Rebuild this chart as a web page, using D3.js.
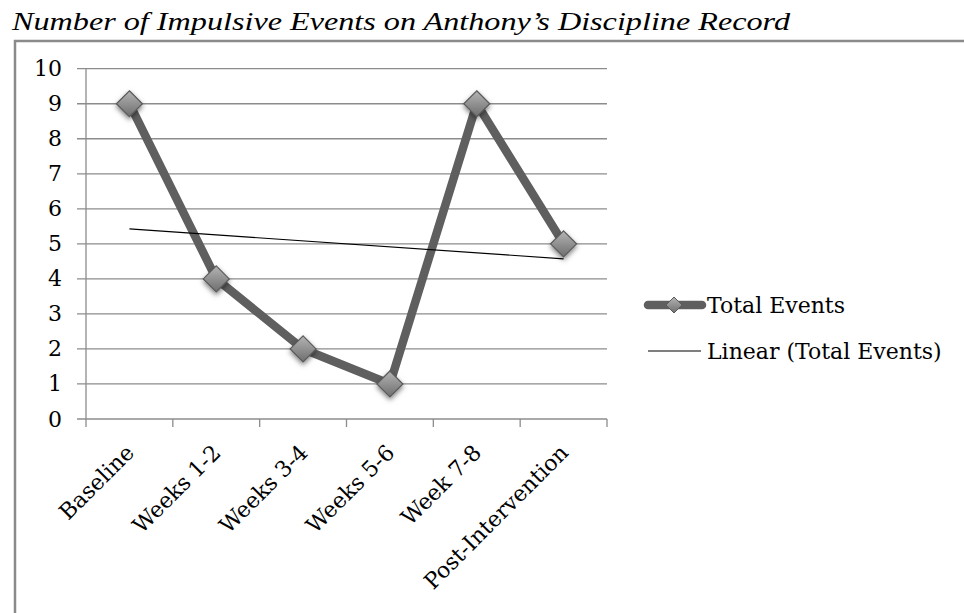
<!DOCTYPE html>
<html>
<head>
<meta charset="utf-8">
<script src="https://cdn.jsdelivr.net/npm/d3@7"></script>
<style>
  html, body { margin: 0; padding: 0; background: #fff; }
  svg { display: block; }
</style>
</head>
<body>
<svg id="chart" width="964" height="613"></svg>
<script>
// Impulsive events recorded per period
const categories = ["Baseline", "Weeks 1-2", "Weeks 3-4", "Weeks 5-6", "Week 7-8", "Post-Intervention"];
const totalEvents = [9, 4, 2, 1, 9, 5];
const yTickValues = [0, 1, 2, 3, 4, 5, 6, 7, 8, 9, 10];
const seriesName = "Total Events";
const trendName = "Linear (Total Events)";
const titleText = "Number of Impulsive Events on Anthony\u2019s Discipline Record";

const svg = d3.select("#chart");
const labelFont = "'DejaVu Serif', serif";

// Least-squares trend over the category index (1..n)
const n = totalEvents.length;
const xs = d3.range(1, n + 1);
const mx = d3.mean(xs), my = d3.mean(totalEvents);
const slope = d3.sum(xs, (v, i) => (v - mx) * (totalEvents[i] - my)) / d3.sum(xs, v => (v - mx) ** 2);
const intercept = my - slope * mx;
const trendValues = [1, n].map(v => intercept + slope * v);

const x = d3.scaleBand().domain(categories).range([86, 607]);
const cx = c => x(c) + x.bandwidth() / 2;
const y = d3.scaleLinear().domain([0, 10]).range([419, 68.7]);

// defs: marker gradient and soft shadow
const defs = svg.append("defs");
const grad = defs.append("linearGradient").attr("id", "mgrad")
  .attr("x1", 0).attr("y1", 0).attr("x2", 0).attr("y2", 1);
grad.append("stop").attr("offset", "0%").attr("stop-color", "#b4b4b4");
grad.append("stop").attr("offset", "100%").attr("stop-color", "#6e6e6e");
const sh = defs.append("filter").attr("id", "shadow")
  .attr("x", "-60%").attr("y", "-60%").attr("width", "220%").attr("height", "220%");
sh.append("feDropShadow").attr("dx", 0).attr("dy", 2.5).attr("stdDeviation", 2.4)
  .attr("flood-color", "#000").attr("flood-opacity", 0.5);

// title
svg.append("text")
  .attr("x", 12).attr("y", 30)
  .attr("font-family", "'Liberation Serif', 'Times New Roman', serif")
  .attr("font-style", "italic")
  .attr("font-size", 26)
  .attr("textLength", 778)
  .attr("lengthAdjust", "spacingAndGlyphs")
  .attr("fill", "#000")
  .text(titleText);

// chart frame
svg.append("path")
  .attr("d", "M15,620 L15,41 L970,41")
  .attr("fill", "none").attr("stroke", "#8a8a8a").attr("stroke-width", 2.5);

// horizontal gridlines (with left tick marks)
svg.append("g").selectAll("line").data(yTickValues).join("line")
  .attr("x1", 77).attr("x2", 607)
  .attr("y1", d => y(d)).attr("y2", d => y(d))
  .attr("stroke", "#8c8c8c").attr("stroke-width", 1.3);

// value axis line
svg.append("line")
  .attr("x1", 86).attr("x2", 86).attr("y1", y(10)).attr("y2", y(0) + 8)
  .attr("stroke", "#8c8c8c").attr("stroke-width", 1.3);

// category axis tick marks at band edges
const edges = categories.map(c => x(c)).concat([x.range()[1]]);
svg.append("g").selectAll("line").data(edges.slice(1)).join("line")
  .attr("x1", d => d).attr("x2", d => d)
  .attr("y1", y(0)).attr("y2", y(0) + 8)
  .attr("stroke", "#8c8c8c").attr("stroke-width", 1.3);

// value labels
svg.append("g").selectAll("text").data(yTickValues).join("text")
  .attr("x", 62).attr("y", d => y(d))
  .attr("text-anchor", "end").attr("dominant-baseline", "central")
  .attr("font-family", labelFont).attr("font-size", 22).attr("fill", "#000")
  .text(d => d);

// category labels, rotated
svg.append("g").selectAll("text").data(categories).join("text")
  .attr("transform", d => `translate(${cx(d) + 6},${y(0) + 35}) rotate(-45)`)
  .attr("text-anchor", "end")
  .attr("font-family", labelFont).attr("font-size", 22).attr("fill", "#000")
  .text(d => d);

// data series line
const line = d3.line().x((d, i) => cx(categories[i])).y(d => y(d));
svg.append("path").datum(totalEvents)
  .attr("d", line)
  .attr("fill", "none").attr("stroke", "#5f5f5f").attr("stroke-width", 8.5)
  .attr("stroke-linejoin", "round");

// linear trendline
svg.append("line")
  .attr("x1", cx(categories[0])).attr("y1", y(trendValues[0]))
  .attr("x2", cx(categories[n - 1])).attr("y2", y(trendValues[1]))
  .attr("stroke", "#000").attr("stroke-width", 1.1);

// diamond markers
const diamond = r => `M0,${-r} L${r},0 L0,${r} L${-r},0 Z`;
svg.append("g").selectAll("path").data(totalEvents).join("path")
  .attr("transform", (d, i) => `translate(${cx(categories[i])},${y(d)})`)
  .attr("d", diamond(13))
  .attr("fill", "url(#mgrad)").attr("stroke", "#5a5a5a").attr("stroke-width", 1.2)
  .attr("filter", "url(#shadow)");

// legend
const lg = svg.append("g");
lg.append("line").attr("x1", 648).attr("x2", 702).attr("y1", 305).attr("y2", 305)
  .attr("stroke", "#5f5f5f").attr("stroke-width", 8.5).attr("stroke-linecap", "round");
lg.append("path").attr("transform", "translate(674,305)").attr("d", diamond(8))
  .attr("fill", "url(#mgrad)").attr("stroke", "#5a5a5a").attr("stroke-width", 1);
lg.append("text").attr("x", 707).attr("y", 305).attr("dominant-baseline", "central")
  .attr("font-family", labelFont).attr("font-size", 22).attr("fill", "#000")
  .text(seriesName);
lg.append("line").attr("x1", 648).attr("x2", 701).attr("y1", 351).attr("y2", 351)
  .attr("stroke", "#000").attr("stroke-width", 1.1);
lg.append("text").attr("x", 707).attr("y", 351).attr("dominant-baseline", "central")
  .attr("font-family", labelFont).attr("font-size", 22).attr("fill", "#000")
  .text(trendName);
</script>
</body>
</html>
